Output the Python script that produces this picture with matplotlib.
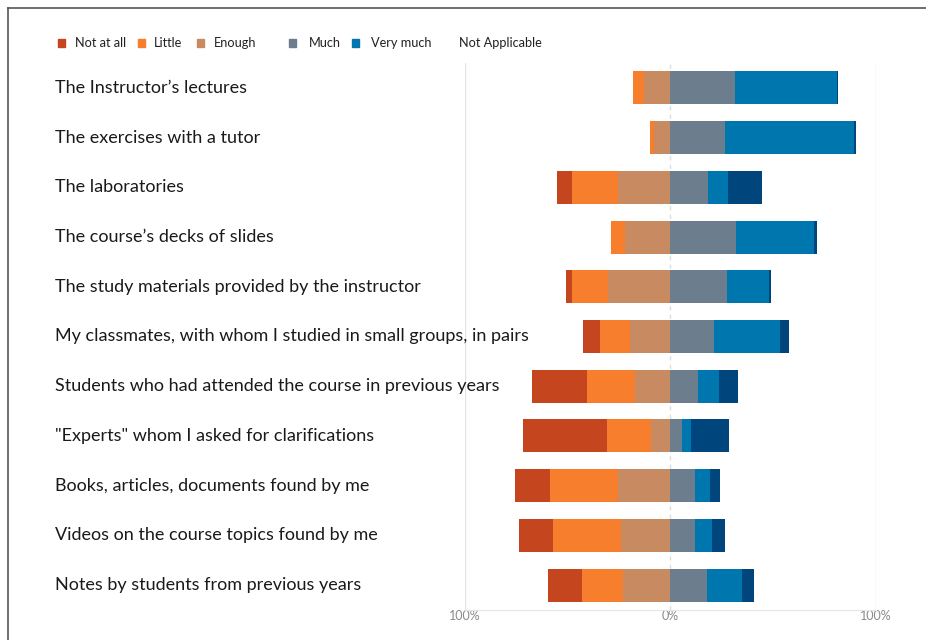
import matplotlib
matplotlib.use("Agg")
import matplotlib.pyplot as plt
from matplotlib.patches import Rectangle
from matplotlib.lines import Line2D
from matplotlib.transforms import blended_transform_factory
import numpy as np

plt.rcParams['font.family'] = ['Lato', 'DejaVu Sans']

categories = [
    "The Instructor\u2019s lectures",
    "The exercises with a tutor",
    "The laboratories",
    "The course\u2019s decks of slides",
    "The study materials provided by the instructor",
    "My classmates, with whom I studied in small groups, in pairs",
    "Students who had attended the course in previous years",
    "\"Experts\" whom I asked for clarifications",
    "Books, articles, documents found by me",
    "Videos on the course topics found by me",
    "Notes by students from previous years",
]
not_at_all = [0.0, 0.0, 7.0, 0.0, 3.1, 8.1, 26.6, 40.7, 16.9, 16.9, 16.4]
little     = [5.2, 2.0, 22.2, 6.5, 17.5, 14.6, 23.2, 21.6, 32.9, 32.8, 20.0]
enough     = [13.0, 8.0, 25.6, 22.2, 30.3, 19.6, 17.2, 9.2, 25.6, 24.0, 23.0]
much       = [31.6, 26.4, 18.5, 31.8, 27.4, 21.1, 13.5, 5.7, 12.0, 12.0, 18.0]
very_much  = [49.6, 63.1, 9.7, 38.0, 20.6, 32.4, 10.4, 4.4, 7.1, 8.4, 17.0]
not_appl   = [0.5, 0.8, 16.5, 1.3, 1.0, 4.1, 9.1, 18.5, 5.2, 6.0, 5.5]
legend_labels = ["Not at all", "Little", "Enough", "Much", "Very much", "Not Applicable"]
tick_labels = ["100%", "0%", "100%"]

colors = {
    "Not at all": "#C5461E",
    "Little": "#F67E2C",
    "Enough": "#C88A60",
    "Much": "#6C7D8D",
    "Very much": "#0076AE",
    "Not Applicable": "#00467D",
}

W, H = 926, 640
fig = plt.figure(figsize=(W / 100, H / 100), dpi=100)
ax = fig.add_axes([464.5 / W, 1 - 610 / H, 411.5 / W, (610 - 63) / H])

y = np.arange(len(categories))
na = np.array(not_at_all); li = np.array(little); en = np.array(enough)
mu = np.array(much); vm = np.array(very_much); nap = np.array(not_appl)
h = 0.665

# left side (negative)
ax.barh(y, -en, left=0, height=h, color=colors["Enough"], edgecolor='none')
ax.barh(y, -li, left=-en, height=h, color=colors["Little"], edgecolor='none')
ax.barh(y, -na, left=-en - li, height=h, color=colors["Not at all"], edgecolor='none')
# right side
ax.barh(y, mu, left=0, height=h, color=colors["Much"], edgecolor='none')
ax.barh(y, vm, left=mu, height=h, color=colors["Very much"], edgecolor='none')
ax.barh(y, nap, left=mu + vm, height=h, color=colors["Not Applicable"], edgecolor='none')

ax.set_xlim(-100, 100)
ax.set_ylim(len(categories) - 0.5, -0.5)
ax.set_xticks([-100, 0, 100])
ax.set_xticklabels(tick_labels, color='#8a8a8a', fontsize=9)
ax.tick_params(axis='x', length=0, pad=0)
ax.set_yticks([])
for s in ['top', 'left', 'right']:
    ax.spines[s].set_visible(False)
ax.spines['bottom'].set_color('#e6e6e6')
ax.axvline(-100, color='#e4e4e4', lw=1, zorder=0)
ax.axvline(100, color='#e4e4e4', lw=1, zorder=0)
ax.axvline(0, color='#dcdcdc', lw=1, ls=(0, (3, 3)), zorder=0)

tr = blended_transform_factory(fig.transFigure, ax.transData)
for i, c in enumerate(categories):
    ax.text(55 / W, i, c, transform=tr, ha='left', va='center', fontsize=12.95, color='#1a1a1a')

# legend (manual)
mk_x = [58.3, 138, 196.7, 289, 351.7, None]
tx_x = [75, 154, 214, 308.7, 371, 459]
ly = 43
for lab, mx, tx in zip(legend_labels, mk_x, tx_x):
    if mx is not None:
        fig.add_artist(Rectangle((mx / W, 1 - (ly + 3.5) / H), 7 / W, 7 / H,
                                 transform=fig.transFigure, color=colors[lab]))
    fig.text(tx / W, 1 - ly / H, lab, ha='left', va='center', fontsize=9.2, color='#222222')

# frame lines (top, left)
fig.add_artist(Line2D([8 / W, 1], [1 - 7.5 / H, 1 - 7.5 / H], transform=fig.transFigure, color='#555555', lw=1.2))
fig.add_artist(Line2D([8 / W, 8 / W], [0, 1 - 7.5 / H], transform=fig.transFigure, color='#555555', lw=1.2))

fig.savefig("out.png", dpi=100)
